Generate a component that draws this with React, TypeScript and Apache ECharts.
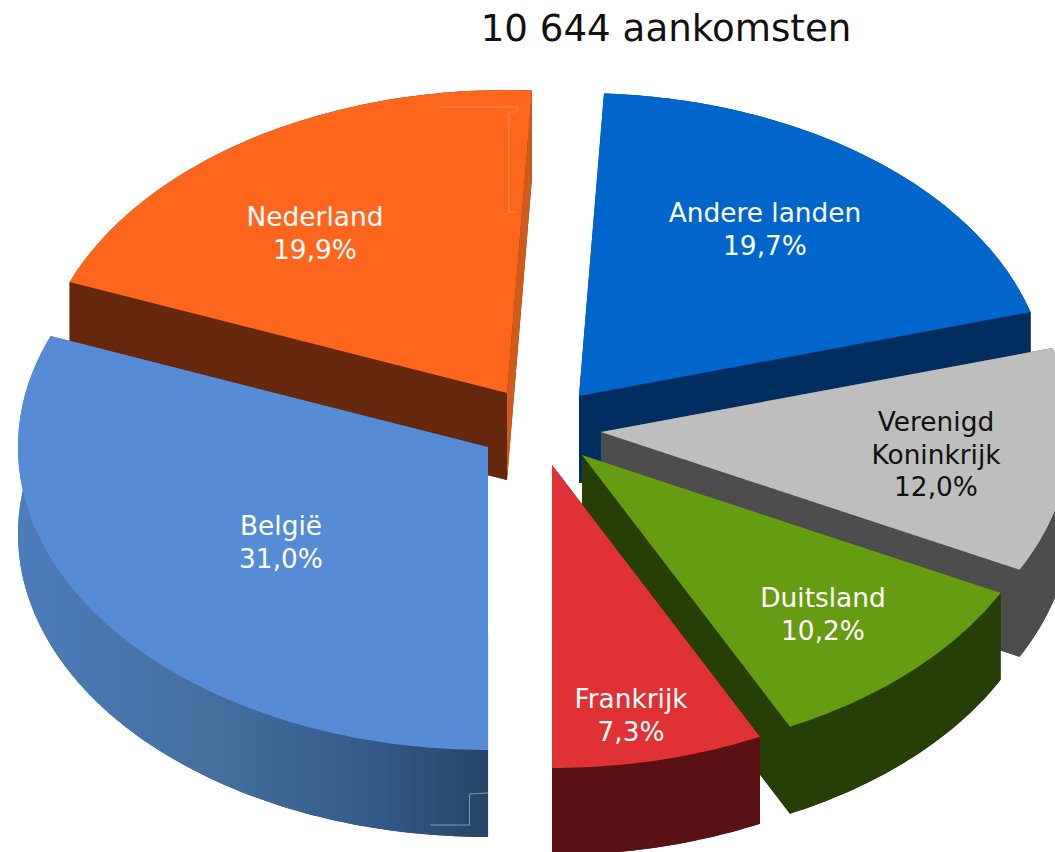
import React, { useEffect, useRef } from "react";
import * as echarts from "echarts";

const titleText = "10 644 aankomsten";
const categories = ["Andere landen", "Verenigd\nKoninkrijk", "Duitsland", "Frankrijk", "België", "Nederland"];
const shares = [19.7, 12.0, 10.2, 7.3, 31.0, 19.9];
const shareLabels = ["19,7%", "12,0%", "10,2%", "7,3%", "31,0%", "19,9%"];

// layout (separate from the data)
const START_ANGLE = 3.05;
const RX = 470;
const RY = 303;
const DEPTH = 87;
const apexes = [[579, 396], [601, 432], [582, 455], [552, 465], [488, 447], [507, 393]];
const labelAnchors = [[765, 229], [936, 454], [823, 614], [631, 715], [281, 542], [315, 233]];
const topColors = ["#0066CC", "#BEBEBE", "#669C12", "#E03134", "#568BD5", "#FF661D"];
const wallColors = ["#002E60", "#4D4D4D", "#263F06", "#5A1113", "#3F6BA3", "#66280C"];
const labelColors = ["#fff", "#111", "#fff", "#fff", "#fff", "#fff"];
const drawOrder = [0, 5, 1, 4, 2, 3];

const total = shares.reduce((s, v) => s + v, 0);
const startAngles: number[] = [];
shares.reduce((acc, v, i) => {
  startAngles[i] = acc;
  return acc + (v * 360) / total;
}, START_ANGLE);

function point(cx: number, cy: number, deg: number) {
  const t = (deg * Math.PI) / 180;
  return [cx + RX * Math.sin(t), cy - RY * Math.cos(t)];
}

function arc(cx: number, cy: number, from: number, to: number) {
  const n = Math.ceil(Math.abs(to - from));
  const pts: number[][] = [];
  for (let k = 0; k <= n; k++) pts.push(point(cx, cy, from + ((to - from) * k) / n));
  return pts;
}

const beligWall = new echarts.graphic.LinearGradient(
  18, 0, 488, 0,
  [
    { offset: 0, color: "#4C7DBB" },
    { offset: 0.4, color: "#44709F" },
    { offset: 0.75, color: "#355A8A" },
    { offset: 1, color: "#264568" },
  ],
  true
);

function renderItem(_params: any, api: any) {
  const i = api.value(0) as number;
  const from = api.value(1) as number;
  const to = from + ((api.value(2) as number) * 360) / total;
  const [ax, ay] = apexes[i];
  const wall: any = i === 4 ? beligWall : wallColors[i];
  const top = arc(ax, ay, from, to);
  const low = arc(ax, ay + DEPTH, from, to);
  const a = top[0];
  const b = top[top.length - 1];
  const children: any[] = [
    { type: "polygon", shape: { points: [[ax, ay + DEPTH], ...low] }, style: { fill: wall } },
    { type: "polygon", shape: { points: [...top, ...low.slice().reverse()] }, style: { fill: wall } },
    { type: "polygon", shape: { points: [[ax, ay], a, low[0], [ax, ay + DEPTH]] }, style: { fill: wall } },
    {
      type: "polygon",
      shape: { points: [[ax, ay], b, low[low.length - 1], [ax, ay + DEPTH]] },
      style: { fill: i === 5 ? "#D05A1A" : wall },
    },
    { type: "polygon", shape: { points: [[ax, ay], ...top] }, style: { fill: topColors[i] } },
    {
      type: "text",
      x: labelAnchors[i][0],
      y: labelAnchors[i][1],
      style: {
        text: `${categories[i]}\n${shareLabels[i]}`,
        fill: labelColors[i],
        fontSize: 26.4,
        lineHeight: 32.5,
        fontFamily: "'DejaVu Sans'",
        align: "center",
        verticalAlign: "middle",
      },
    },
  ];
  return { type: "group", children };
}

export default function App() {
  const ref = useRef<HTMLDivElement>(null);
  useEffect(() => {
    const chart = echarts.init(ref.current!, null, { renderer: "svg" });
    chart.setOption({
      animation: false,
      backgroundColor: "#fff",
      title: {
        text: titleText,
        left: 661,
        top: 4,
        textAlign: "center",
        textStyle: { fontSize: 37.2, fontWeight: "normal", fontFamily: "'DejaVu Sans'", color: "#111" },
      },
      series: [
        {
          type: "custom",
          coordinateSystem: "none",
          renderItem,
          silent: true,
          data: drawOrder.map((i) => [i, startAngles[i], shares[i]]),
        },
      ],
      graphic: [
        {
          type: "polyline",
          z: 10,
          shape: { points: [[440, 107], [518, 107], [518, 112], [509, 112], [509, 212], [518, 212]] },
          style: { stroke: "#FF8A50", fill: "none", lineWidth: 1 },
        },
        {
          type: "polyline",
          z: 10,
          shape: { points: [[430, 825], [469.5, 825], [469.5, 794], [488, 793]] },
          style: { stroke: "#7F97B5", fill: "none", lineWidth: 1 },
        },
      ],
    });
    return () => chart.dispose();
  }, []);
  return <div ref={ref} style={{ position: "fixed", left: 0, top: 0, width: 1055, height: 852 }} />;
}
